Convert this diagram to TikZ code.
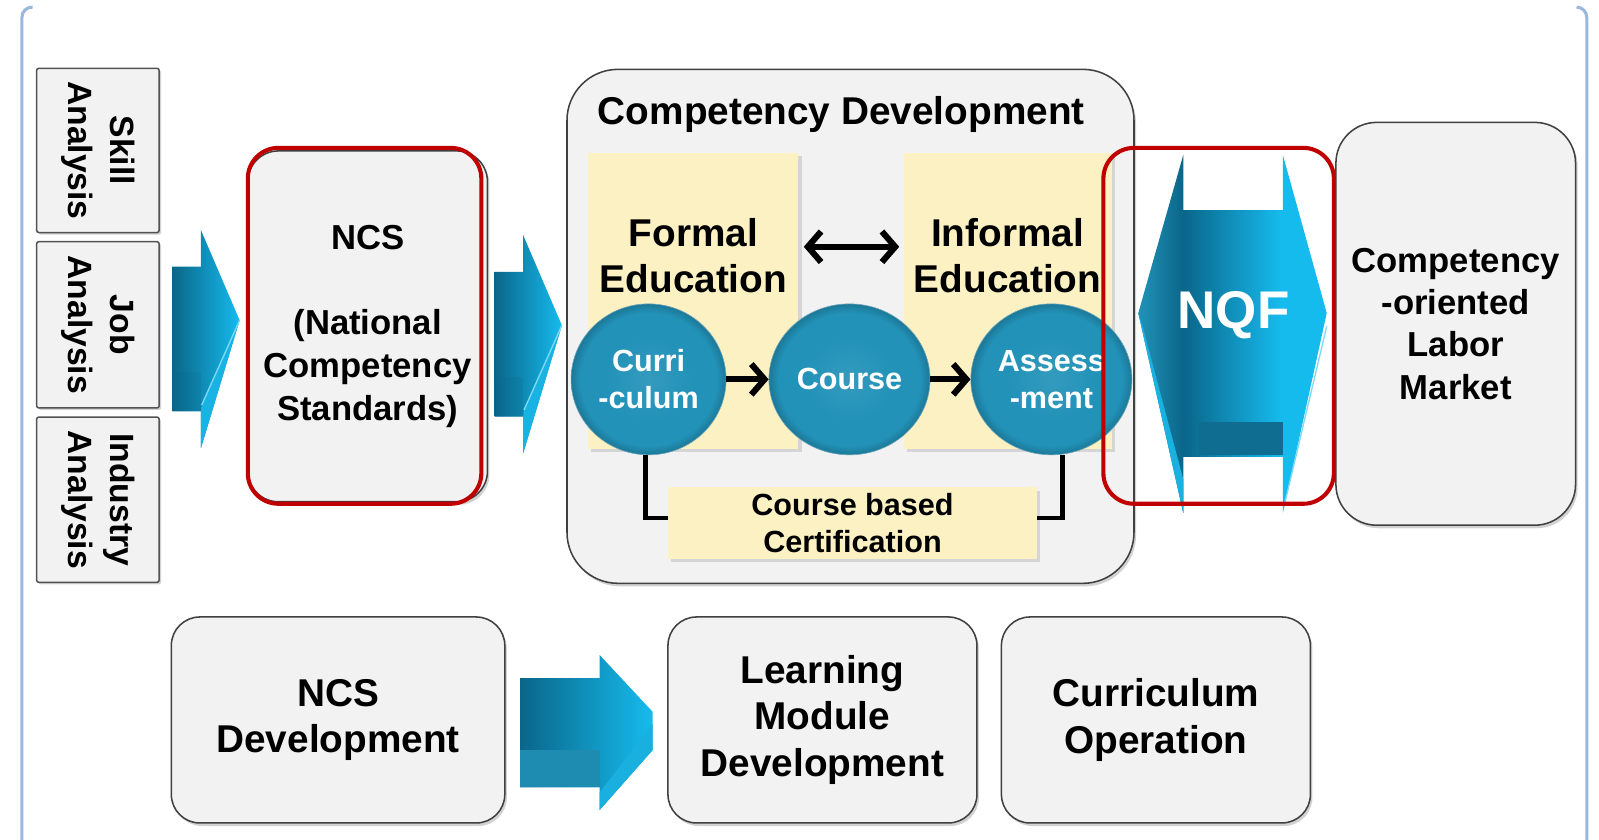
\documentclass[tikz,border=0pt]{standalone}
\usepackage{fontspec}
\setmainfont{Liberation Sans}
\usetikzlibrary{arrows.meta,shadows,shapes.geometric}
\definecolor{boxgray}{HTML}{F2F2F2}
\definecolor{boxline}{HTML}{404040}
\definecolor{redline}{HTML}{C00000}
\definecolor{yel}{HTML}{FCF1C2}
\definecolor{cteal}{HTML}{2292B8}
\definecolor{cdark}{HTML}{0A6689}
\definecolor{ccyan}{HTML}{16BBEE}
\definecolor{framebl}{HTML}{9BB8DC}
\pgfdeclarehorizontalshading{nqfsh}{100bp}{color(0bp)=(cteal); color(25bp)=(cteal); color(37bp)=(cdark); color(63bp)=(ccyan); color(75bp)=(ccyan); color(100bp)=(ccyan)}
\pgfdeclareradialshading{ballsh}{\pgfpoint{0bp}{0bp}}{color(0bp)=(cteal!92!white); color(14bp)=(cteal); color(22bp)=(cteal); color(25bp)=(cteal!82!black); color(50bp)=(cteal!82!black)}
\newcommand{\myfs}[2]{\bfseries\fontsize{#1}{#2}\selectfont}
\newcommand{\myarrowA}[1]{%
  \begin{scope}[shift={#1}]
    \shade[left color=cdark, right color=ccyan] (0,0) -- (28,0) -- (28,-36) -- (66,52.5) -- (28,178) -- (28,142) -- (0,142) -- cycle;
    \fill[cdark, opacity=0.2] (0,103) rectangle (28,142);
    \fill[ccyan!80!cteal] (66,52.5) -- (28,178) -- (28,142) -- (28.8,135.6) -- cycle;
    \draw[white!45!ccyan, line width=1.3pt] (66,52.5) -- (28.8,135.6);
  \end{scope}}
\newcommand{\myarrowB}[1]{%
  \begin{scope}[shift={#1}]
    \shade[left color=cdark, right color=ccyan] (0,0) -- (78,0) -- (78,-22.7) -- (130,33) -- (130,70.5) -- (78,129.3) -- (78,107) -- (0,107) -- cycle;
    \fill[cteal!85!cdark] (0,70.5) rectangle (78,107);
    \fill[ccyan!70!cteal] (130,45) -- (130,70.5) -- (78,129.3) -- (78,112) -- cycle;
  \end{scope}}
\begin{document}
\begin{tikzpicture}[x=1pt,y=-1pt,
  frameline/.style={draw=framebl, line width=3pt, rounded corners=10pt},
  anabox/.style={draw=boxline!90, line width=1.5pt, fill=boxgray, rounded corners=2pt, inner sep=0pt, align=center, font=\myfs{33}{41}, drop shadow={shadow xshift=2pt, shadow yshift=-2pt, opacity=0.35}},
  rbox/.style={draw=boxline, line width=1.5pt, fill=boxgray, rounded corners=#1, inner sep=0pt, align=center, drop shadow={shadow xshift=2pt, shadow yshift=-3pt, opacity=0.35}},
  rbox/.default=25pt,
  redbox/.style={draw=redline, line width=4pt, rounded corners=30pt, inner sep=0pt},
  yelbox/.style={fill=yel, inner sep=0pt, align=center, drop shadow={shadow xshift=3pt, shadow yshift=-3pt, opacity=0.25}},
  ball/.style={ellipse, inner sep=0pt, draw=cdark!60, line width=0.6pt, shading=ballsh, text=white, align=center, font=\myfs{30}{36}},
  balltext/.style={text=white, align=center, font=\myfs{30}{36}},
  conn/.style={line width=4.5pt, black},
  flow/.style={line width=6pt, black, -{Straight Barb[length=13pt, width=30pt]}},
  dflow/.style={line width=6pt, black, {Straight Barb[length=13pt, width=30pt]}-{Straight Barb[length=13pt, width=30pt]}},
  big/.style={align=center, font=\myfs{38}{45}}
]
\useasboundingbox (0,0) rectangle (1568,823);
\fill[white] (0,0) rectangle (1568,823);

% outer frame
\draw[frameline] (32,7) -- (21.5,7) -- (21.5,845);
\draw[frameline] (1546,7) -- (1556,7) -- (1556,845);

% analysis boxes
\node[anabox, rotate=-90, minimum width=161pt, minimum height=120pt] (skill) at (96,147.5) {Skill\\Analysis};
\node[anabox, rotate=-90, minimum width=163pt, minimum height=120pt] (job) at (96,318.5) {Job\\Analysis};
\node[anabox, rotate=-90, minimum width=162pt, minimum height=120pt] (ind) at (96,490) {Industry\\Analysis};

\myarrowA{(169,261.5)}

% NCS
\node[rbox=30pt, minimum width=235pt, minimum height=344pt, font=\myfs{34}{42}] (ncs) at (360.5,320) {NCS\\\mbox{}\\(National\\Competency\\Standards)};
\node[redbox, minimum width=229pt, minimum height=349pt] (ncsred) at (357.5,319.5) {};

\myarrowA{(485,266.5)}

% Competency development
\node[rbox=50pt, minimum width=556pt, minimum height=504pt] (cd) at (834,320) {};
\node[font=\myfs{38}{45}] (cdt) at (825,112) {Competency Development};

\node[yelbox, minimum width=206pt, minimum height=290pt] (formal) at (680,295) {};
\node[yelbox, minimum width=204pt, minimum height=290pt] (informal) at (988,295) {};
\node[big] (formalt) at (680,251) {Formal\\Education};
\begin{scope}
  \clip (0,0) rectangle (1082,823);
  \node[big] (informalt) at (988,251) {Informal\\Education};
\end{scope}
\draw[dflow] ([xshift=5pt,yshift=53pt]formal.east) -- ([xshift=-4pt,yshift=53pt]informal.west);

% certification
\node[yelbox, minimum width=362pt, minimum height=70pt, font=\myfs{30}{36}] (cert) at (836,513) {Course based\\Certification};

% circles
\node[ball, minimum width=152pt, minimum height=148pt] (cur) at (636,372) {Curri\\-culum};
\node[ball, minimum width=158pt, minimum height=148pt] (course) at (833,372) {Course};
\node[ball, minimum width=158pt, minimum height=148pt] (ass) at (1031,372) {};
\begin{scope}
  \clip (0,0) rectangle (1082,823);
  \node[balltext] (asst) at (ass) {Assess\\-ment};
\end{scope}
\draw[conn] ([xshift=-3pt]cur.south) |- ([yshift=5pt]cert.west);
\draw[conn] ([xshift=11pt]ass.south) |- ([yshift=5pt]cert.east);
\draw[flow] (cur.east) -- (course.west);
\draw[flow] (course.east) -- (ass.west);

% NQF
\shade[shading=nqfsh] (1160.3,152) -- (1160.3,206) -- (1258,206) -- (1258,152) -- (1301,307) -- (1258,503) -- (1258,448) -- (1160.3,448) -- (1160.3,503) -- (1116.2,307) -- cycle;
\fill[ccyan!75!cteal] (1116.2,307) -- (1160.3,503) -- (1160.3,470) -- (1121,322) -- cycle;
\fill[cdark!85!cteal] (1174.7,414) rectangle (1258,446);
\draw[white!45!ccyan, line width=1.3pt] (1301,320) -- (1259,497);
\node[font=\myfs{52}{60}, text=white] (nqf) at (1209.5,309) {NQF};
\node[redbox, minimum width=226pt, minimum height=349pt] (nqfred) at (1195,319.5) {};

% labor market
\node[rbox=40pt, minimum width=235pt, minimum height=395pt, font=\myfs{34}{41.5}] (labor) at (1427.5,317.5) {Competency\\-oriented\\Labor\\Market};

% bottom row
\node[rbox=28pt, minimum width=327pt, minimum height=202pt, font=\myfs{38}{45}] (ncsdev) at (331.5,706) {NCS\\Development};
\myarrowB{(510,665)}
\node[rbox=28pt, minimum width=303pt, minimum height=202pt, font=\myfs{38}{46}] (lmd) at (806.5,706) {Learning\\Module\\Development};
\node[rbox=28pt, minimum width=303pt, minimum height=202pt, font=\myfs{38}{46}] (cop) at (1133.5,706) {Curriculum\\Operation};
\end{tikzpicture}
\end{document}
